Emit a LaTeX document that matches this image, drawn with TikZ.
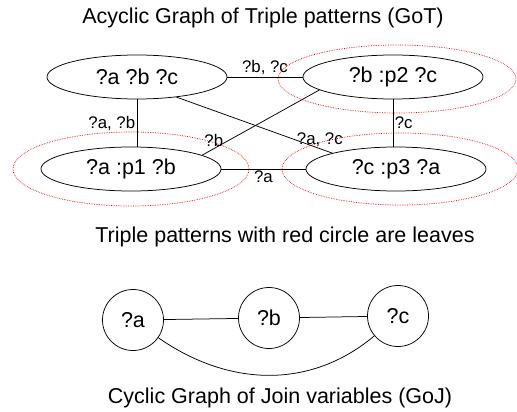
\documentclass[tikz,border=0pt]{standalone}
\usepackage{fontspec}
\setmainfont{Liberation Sans}
\usetikzlibrary{shapes.geometric}

\begin{document}
\begin{tikzpicture}[x=1pt,y=-1pt,line width=0.75pt,
	tp/.style={draw, ellipse, minimum width=180pt, minimum height=44pt, inner sep=0pt, font=\fontsize{21.5}{25}\selectfont},
	jv/.style={draw, circle, minimum size=61pt, inner sep=0pt, font=\fontsize{21.5}{25}\selectfont},
	lbl/.style={font=\fontsize{16.8}{20}\selectfont, inner sep=1.5pt},
	title/.style={font=\fontsize{21.5}{25}\selectfont},
	leaf/.style={draw=red, densely dotted, line width=0.7pt}]

	% frame
	\useasboundingbox (0,0) rectangle (517,412);

	% triple patterns
	\node[tp] (abc) at (137,77)  {?a ?b ?c};
	\node[tp] (p2)  at (393,77)  {?b :p2 ?c};
	\node[tp] (p1)  at (131,169) {?a :p1 ?b};
	\node[tp] (p3)  at (396,169) {?c :p3 ?a};

	% leaves
	\draw[leaf] (p1) ellipse [x radius=118pt, y radius=37pt];
	\draw[leaf] (397,79) ellipse [x radius=119pt, y radius=34pt];
	\draw[leaf] (400,169) ellipse [x radius=118pt, y radius=36pt];

	% join edges
	\draw (abc.south) -- (abc.south |- p1.north) node[lbl, midway, left] {?a, ?b};
	\draw (abc.east) -- (p2.west) node[lbl, midway, above] {?b, ?c};
	\draw (p2.south) -- (p2.south |- p3.north) node[lbl, midway, right] {?c};
	\draw (p1.east) -- (p3.west) node[lbl, midway, below] {?a};
	\draw (abc.-27) -- (p3.166) node[lbl, pos=0.92, above] {?a, ?c};
	\draw (p1.11) -- (p2.190) node[lbl, pos=0.1, above] {?b};

	% join variables
	\node[jv] (a) at (133,320) {?a};
	\node[jv] (b) at (269,318) {?b};
	\node[jv] (c) at (398,316) {?c};

	\draw (a) -- (b);
	\draw (b) -- (c);
	\draw (a) to[out=-35, in=-140] (c);

	% titles
	\node[title] (got) at (263,18)  {Acyclic Graph of Triple patterns (GoT)};
	\node[title] (note) at (285,237) {Triple patterns with red circle are leaves};
	\node[title] (goj) at (280,398) {Cyclic Graph of Join variables (GoJ)};

\end{tikzpicture}
\end{document}
